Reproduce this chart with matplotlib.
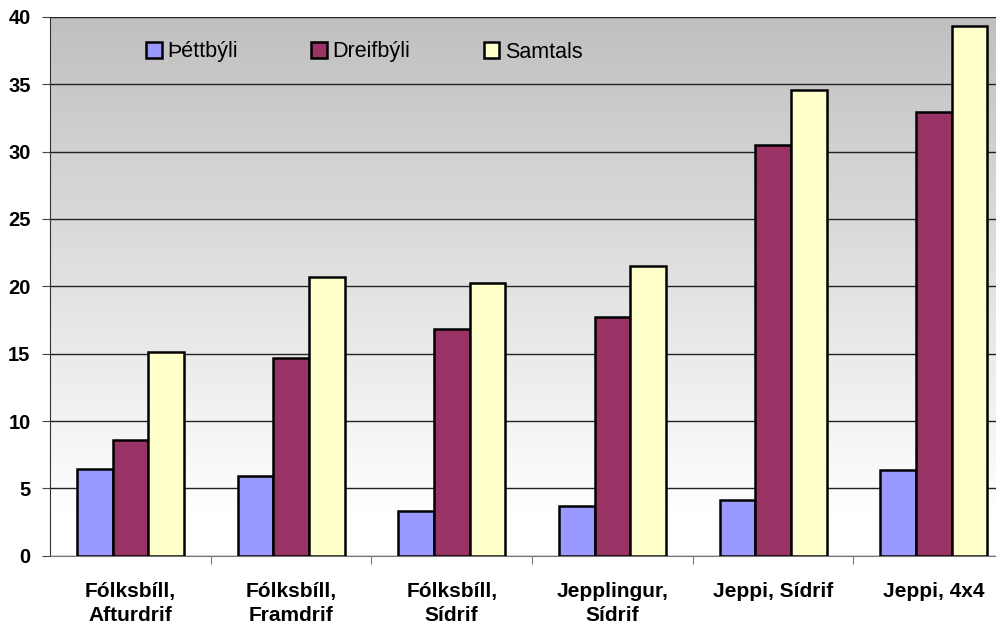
import matplotlib
matplotlib.use("Agg")
import matplotlib.pyplot as plt
import numpy as np

plt.rcParams['font.family'] = ['Liberation Sans', 'DejaVu Sans']

categories = ["Fólksbíll,\nAfturdrif", "Fólksbíll,\nFramdrif", "Fólksbíll,\nSídrif",
              "Jepplingur,\nSídrif", "Jeppi, Sídrif", "Jeppi, 4x4"]
thettbyli = [6.45, 5.95, 3.3, 3.7, 4.1, 6.35]
dreifbyli = [8.6, 14.7, 16.85, 17.75, 30.5, 32.95]
samtals = [15.1, 20.7, 20.25, 21.5, 34.6, 39.3]

series = [("Þéttbýli", thettbyli, "#9999ff"),
          ("Dreifbýli", dreifbyli, "#993366"),
          ("Samtals", samtals, "#ffffcc")]

fig = plt.figure(figsize=(9.96, 6.27), dpi=100)
ax = fig.add_axes([0.0502, 0.1137, 0.968, 0.8593])

# gray-to-white gradient background (white near the bottom)
yy = np.linspace(40, 0, 400)
grad = np.clip((yy - 3) / 37, 0, 1).reshape(-1, 1)
bg = matplotlib.colors.LinearSegmentedColormap.from_list("bg", ["#ffffff", "#c0c0c0"])
ax.imshow(grad, extent=[-0.5, len(categories) - 0.5, 0, 40], aspect='auto',
          cmap=bg, vmin=0, vmax=1, zorder=0, origin='upper')

x = np.arange(len(categories))
w = 0.222
for i, (name, vals, col) in enumerate(series):
    ax.bar(x + (i - 1) * w, vals, width=w, color=col, edgecolor='black',
           linewidth=1.8, label=name, zorder=3)

ax.set_xlim(-0.5, len(categories) - 0.5)
ax.set_ylim(0, 40)
ax.set_yticks(range(0, 41, 5))
ax.yaxis.grid(True, color='#222222', linewidth=1.0, zorder=1)
ax.set_axisbelow(True)

ax.set_xticks(x)
ax.set_xticklabels(categories, fontsize=15, fontweight='bold', linespacing=1.3)
ax.set_xticks(np.arange(0.5, len(categories) - 0.5, 1), minor=True)
ax.tick_params(axis='x', which='major', length=0, pad=19)
ax.tick_params(axis='x', which='minor', length=6, color='#555555', direction='out')
ax.tick_params(axis='y', length=6, color='#444444', labelsize=14.5, pad=8)
for lab in ax.get_yticklabels():
    lab.set_fontweight('bold')

for s in ['top', 'right']:
    ax.spines[s].set_visible(False)
ax.spines['left'].set_color('#333333')
ax.spines['bottom'].set_color('#777777')

ax.legend(loc='center left', bbox_to_anchor=(146 / 996, 1 - 52 / 627),
          bbox_transform=fig.transFigure, ncol=3, frameon=False,
          fontsize=15.5, handlelength=0.72, handleheight=0.72, handletextpad=0.25,
          columnspacing=3.43, borderpad=0, borderaxespad=0)

fig.savefig("out.png", dpi=100)
